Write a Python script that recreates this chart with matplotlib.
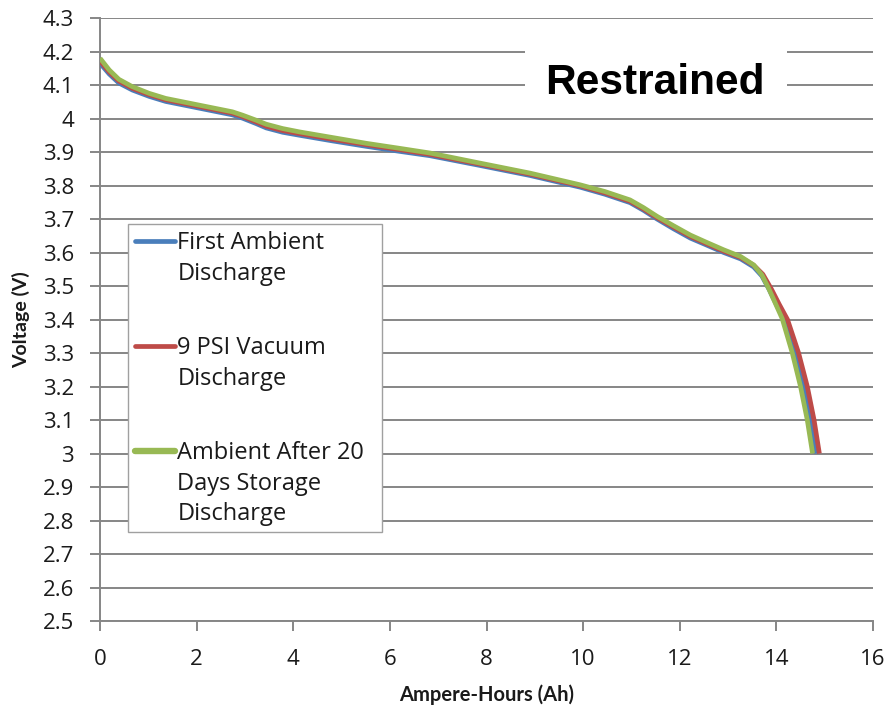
import matplotlib.pyplot as plt
from matplotlib.lines import Line2D
from matplotlib.patches import Rectangle

# Discharge curves (Ah, V)
first_ah = [0, 0.19, 0.39, 0.67, 1.02, 1.36, 2.05, 2.74, 2.95, 3.23, 3.44, 3.78, 4.13, 4.82, 5.51, 6.2, 6.83,
            7.86, 8.9, 9.94, 10.45, 10.97, 11.25, 11.53, 11.87, 12.22, 12.56, 12.91, 13.26, 13.53, 13.7, 13.85,
            14.0, 14.17, 14.4, 14.58, 14.72, 14.83]
first_v = [4.165, 4.133, 4.106, 4.085, 4.066, 4.051, 4.031, 4.011, 4.001, 3.985, 3.972, 3.959, 3.95, 3.933,
           3.917, 3.902, 3.889, 3.86, 3.83, 3.795, 3.774, 3.749, 3.726, 3.7, 3.671, 3.643, 3.622, 3.6, 3.581,
           3.557, 3.53, 3.49, 3.445, 3.4, 3.3, 3.2, 3.1, 3.0]

vacuum_ah = [0, 0.19, 0.39, 0.67, 1.02, 1.36, 2.05, 2.74, 2.95, 3.23, 3.44, 3.78, 4.13, 4.82, 5.51, 6.2, 6.83,
             7.86, 8.9, 9.94, 10.45, 10.97, 11.25, 11.53, 11.87, 12.22, 12.56, 12.91, 13.26, 13.53, 13.72, 13.9,
             14.06, 14.23, 14.46, 14.64, 14.78, 14.89]
vacuum_v = [4.172, 4.139, 4.112, 4.09, 4.071, 4.056, 4.036, 4.016, 4.006, 3.99, 3.977, 3.964, 3.955, 3.938,
            3.922, 3.907, 3.893, 3.864, 3.834, 3.799, 3.778, 3.753, 3.73, 3.704, 3.676, 3.648, 3.626, 3.604,
            3.585, 3.562, 3.535, 3.49, 3.445, 3.4, 3.3, 3.2, 3.1, 3.0]

storage_ah = [0, 0.19, 0.39, 0.67, 1.02, 1.36, 2.05, 2.74, 2.95, 3.23, 3.44, 3.78, 4.13, 4.82, 5.51, 6.2, 6.83,
              7.86, 8.9, 9.94, 10.45, 10.97, 11.25, 11.53, 11.87, 12.22, 12.56, 12.91, 13.26, 13.53, 13.7,
              13.84, 13.98, 14.12, 14.33, 14.5, 14.64, 14.75]
storage_v = [4.18, 4.145, 4.117, 4.095, 4.075, 4.06, 4.04, 4.02, 4.01, 3.995, 3.983, 3.97, 3.96, 3.943, 3.926,
             3.911, 3.897, 3.867, 3.837, 3.802, 3.782, 3.757, 3.734, 3.708, 3.68, 3.652, 3.63, 3.608, 3.588,
             3.563, 3.533, 3.493, 3.448, 3.403, 3.3, 3.2, 3.1, 3.0]

labels = ['First Ambient\nDischarge', '9 PSI Vacuum\nDischarge', 'Ambient After 20\nDays Storage\nDischarge']
colors = ['#4A7EBB', '#BE4B48', '#98B954']
x_ticks = list(range(0, 17, 2))
y_ticks = [round(2.5 + 0.1 * i, 1) for i in range(19)]

plt.rcParams['font.family'] = ['Open Sans', 'DejaVu Sans']

fig = plt.figure(figsize=(8.89, 7.09), dpi=100)
ax = fig.add_axes([0.1125, 0.1241, 0.8695, 0.8505])

series = [(first_ah, first_v), (vacuum_ah, vacuum_v), (storage_ah, storage_v)]
for (xs, ys), c in zip(series, colors):
    ax.plot(xs, ys, color=c, lw=3.4, solid_joinstyle='round', solid_capstyle='butt', zorder=3)

ax.set_xlim(0, 16)
ax.set_ylim(2.5, 4.3)
ax.set_xticks(x_ticks)
ax.set_yticks(y_ticks)
ax.set_yticklabels([f'{v:g}' for v in y_ticks])
ax.grid(axis='y', color='#868686', lw=1.4, zorder=1)
for s in ['top', 'right']:
    ax.spines[s].set_visible(False)
for s in ['left', 'bottom']:
    ax.spines[s].set_color('#868686')
    ax.spines[s].set_linewidth(1.4)
ax.tick_params(axis='both', color='#868686', width=1.4, length=7.2, labelsize=16, labelcolor='#1a1a1a')
ax.tick_params(axis='x', pad=13)
ax.tick_params(axis='y', pad=11.5)

ax.set_xlabel('Ampere-Hours (Ah)', fontsize=14.5, fontweight='bold', family='Lato', color='#1a1a1a')
ax.xaxis.label.set_va('baseline')
ax.xaxis.set_label_coords(0.5, -0.1327)
ax.set_ylabel('Voltage (V)', fontsize=14, fontweight='bold', family='Lato', color='#1a1a1a')
ax.yaxis.label.set_va('center')
ax.yaxis.set_label_coords(-0.1017, 0.5)

# title with a white patch behind it, cutting the grid
ax.add_patch(Rectangle((0.55, 0.847), 0.339, 0.133, transform=ax.transAxes,
                       facecolor='white', edgecolor='none', zorder=4))
ax.text(0.718, 0.874, 'Restrained', transform=ax.transAxes, ha='center', va='baseline',
        fontsize=30.5, fontweight='bold', family='Liberation Sans', zorder=5)

# legend drawn by hand so handles line up with the first text line
ax.add_patch(Rectangle((0.0366, 0.148), 0.3278, 0.51, transform=ax.transAxes,
                       facecolor='white', edgecolor='#A0A0A0', lw=1, zorder=6))
entry_y = [0.630, 0.456, 0.282]
for lab, c, y in zip(labels, colors, entry_y):
    ax.add_line(Line2D([0.045, 0.097], [y, y], transform=ax.transAxes, color=c,
                       lw=3.4 if c != '#98B954' else 4.6, solid_capstyle='round', zorder=7))
    ax.text(0.1, y + 0.016, lab, transform=ax.transAxes, ha='left', va='top',
            fontsize=17, linespacing=1.35, color='#1a1a1a', zorder=7)

fig.savefig('out.png', dpi=100)
